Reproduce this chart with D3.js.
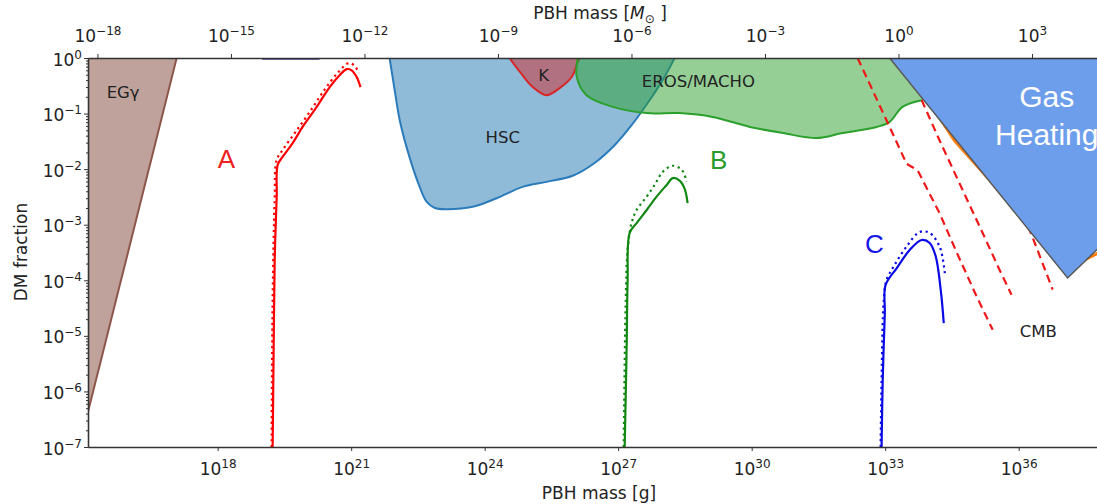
<!DOCTYPE html>
<html>
<head>
<meta charset="utf-8">
<script src="https://cdn.jsdelivr.net/npm/d3@7"></script>
<style>
body { margin: 0; background: #fff; }
text { font-family: "DejaVu Sans", sans-serif; fill: #222; }
</style>
</head>
<body>
<svg id="chart" width="1097" height="504"></svg>
<script>
// constraint regions, [PBH mass in g, DM fraction]
const egammaEdge = [[1.0e15, 2.26e-7], [1.2e17, 1]];
const hscEdge = [[7.3e21, 1], [9.5e21, 0.265], [1.23e22, 0.0767], [2.04e22, 0.0166], [3.47e22, 4.78e-3], [5.0e22, 2.57e-3],
  [7.6e22, 2.0e-3], [1.41e23, 1.9e-3], [5.4e23, 2.1e-3], [1.86e24, 3.0e-3], [7.1e24, 4.8e-3], [2.45e25, 5.9e-3],
  [9.5e25, 7.6e-3], [2.95e26, 0.0129], [8.3e26, 0.0269], [2.0e27, 0.0617], [4.6e27, 0.155], [1.0e28, 0.40], [1.86e28, 1]];
const kEdge = [[3.6e24, 1], [6.2e24, 0.56], [1.2e25, 0.30], [2.45e25, 0.214], [4.9e25, 0.29], [9.1e25, 0.46], [1.23e26, 0.85], [1.35e26, 1]];
const erosEdge = [[1.23e26, 1], [1.17e26, 0.46], [1.95e26, 0.214], [7.6e26, 0.132], [4.4e27, 0.102], [2.4e28, 0.102],
  [1.32e29, 0.087], [9.1e29, 0.0575], [5.0e30, 0.0447], [2.9e31, 0.0363], [1.1e32, 0.0447], [6.5e32, 0.0575],
  [1.26e33, 0.0708], [2.45e33, 0.132], [6.6e33, 0.174], [5e34, 0.174], [5e34, 1]];
const gasHeating = [[1.26e33, 1], [1.26e37, 1.1e-4], [1.6e42, 1]];
const orangeEdge = [[1.36e34, 0.107], [3.63e34, 0.0324], [2.24e35, 6.3e-3], [2.95e36, 5.2e-4], [1.82e37, 1.9e-4], [4.6e37, 2.75e-4], [1.86e38, 5.2e-4]];
const topEdge = [[1.0e19, 0.97], [1.95e20, 0.97]];

// CMB dashed limits
const cmb1 = [[2.4e32, 1], [1.07e33, 0.0759], [3.04e33, 0.0124], [4.37e33, 0.0105], [5.6e33, 8.9e-3], [1.66e34, 1.62e-3],
  [4.1e34, 3.1e-4], [1.15e35, 5.0e-5], [2.6e35, 1.29e-5]];
const cmb2 = [[6.6e33, 0.175], [1.66e34, 0.0331], [5.5e34, 4.2e-3], [1.55e35, 7.1e-4], [3.7e35, 1.55e-4], [6.9e35, 5.5e-5]];
const cmb3 = [[3.7e35, 0.033], [7.4e35, 4.2e-3], [2.04e36, 6.0e-4], [5.8e36, 6.8e-5]];

// extended mass functions A, B, C (solid and dotted)
const curveA = [[1.72e19, 1e-7], [1.81e19, 5.6e-6], [1.91e19, 2.3e-4], [2.12e19, 3.2e-3], [2.23e19, 0.0119], [2.88e19, 0.0166],
  [4.84e19, 0.0295], [8.1e19, 0.0575], [1.68e20, 0.132], [3.29e20, 0.30], [5.5e20, 0.49], [7.9e20, 0.63],
  [1.02e21, 0.60], [1.32e21, 0.46], [1.62e21, 0.30]];
const curveAdot = [[1.63e19, 1e-7], [1.72e19, 4.5e-5], [1.91e19, 2.8e-3], [2.12e19, 0.0146], [2.88e19, 0.0221], [5.4e19, 0.0447],
  [1.17e20, 0.107], [2.5e20, 0.266], [4.98e20, 0.54], [8.8e20, 0.81], [1.2e21, 0.72], [1.48e21, 0.54]];
const curveB = [[1.4e27, 1e-7], [1.55e27, 6.3e-6], [1.63e27, 1e-4], [1.81e27, 7.1e-4], [2.6e27, 1.07e-3], [4.37e27, 1.84e-3],
  [7.3e27, 3.2e-3], [1.23e28, 5.2e-3], [1.68e28, 6.9e-3], [2.4e28, 6.2e-3], [3.12e28, 4.4e-3], [3.63e28, 2.45e-3]];
const curveBdot = [[1.33e27, 1e-7], [1.48e27, 4.4e-5], [1.63e27, 3.5e-4], [2.0e27, 1.07e-3], [2.6e27, 1.84e-3], [4.37e27, 3.2e-3],
  [6.6e27, 5.2e-3], [1.0e28, 8.9e-3], [1.68e28, 0.0115], [2.7e28, 9.7e-3], [3.47e28, 5.9e-3]];
const curveC = [[8.3e32, 1e-7], [8.8e32, 1.62e-6], [9.8e32, 2.57e-5], [1.02e33, 8.2e-5], [1.82e33, 1.66e-4], [3.55e33, 3.5e-4],
  [6.6e33, 5.3e-4], [1.0e34, 4.7e-4], [1.36e34, 2.73e-4], [1.77e34, 6.7e-5], [2.07e34, 1.7e-5]];
const curveCdot = [[7.9e32, 1e-7], [8.3e32, 1.62e-6], [9.3e32, 4.4e-5], [1.07e33, 1e-4], [1.62e33, 1.88e-4], [3.0e33, 4.0e-4],
  [5.96e33, 7.4e-4], [1.0e34, 7.1e-4], [1.68e34, 4.0e-4], [2.19e34, 1.35e-4]];

// ticks
const gramTicks = [1e18, 1e21, 1e24, 1e27, 1e30, 1e33, 1e36];
const solarTicks = [1e-18, 1e-15, 1e-12, 1e-9, 1e-6, 1e-3, 1, 1e3];
const fracTicks = [1e-7, 1e-6, 1e-5, 1e-4, 1e-3, 1e-2, 1e-1, 1];
const MSUN = 1.989e33;

const svg = d3.select("#chart");
svg.append("rect").attr("width", 1097).attr("height", 504).attr("fill", "#fff");

const x = d3.scaleLog().domain([1.22e15, 1e38]).range([88, 1107.7]);
const xs = d3.scaleLog().domain([1.22e15 / MSUN, 1e38 / MSUN]).range([88, 1107.7]);
const y = d3.scaleLog().domain([1e-7, 1]).range([447, 58]);

svg.append("clipPath").attr("id", "plot")
  .append("rect").attr("x", 88).attr("y", 58).attr("width", 1100).attr("height", 389);

const plot = svg.append("g").attr("clip-path", "url(#plot)");

const lin = d3.line().x(d => x(d[0])).y(d => y(d[1]));
const smooth = d3.line().x(d => x(d[0])).y(d => y(d[1])).curve(d3.curveCatmullRom.alpha(0.5));

function region(edge, closing, fill, opacity, stroke, line) {
  plot.append("path").attr("d", line(edge.concat(closing)) + "Z")
    .attr("fill", fill).attr("fill-opacity", opacity).attr("stroke", "none");
  plot.append("path").attr("d", line(edge))
    .attr("fill", "none").attr("stroke", stroke).attr("stroke-width", 2);
}

region(egammaEdge, [[1.0e15, 1]], "#8c564b", 0.55, "#8c564b", lin);
region(hscEdge, [], "#1f77b4", 0.5, "#2b7bba", smooth);
region(kEdge, [], "#d62728", 0.5, "#d62728", smooth);
plot.append("path").attr("d", smooth(erosEdge) + "Z")
  .attr("fill", "#2ca02c").attr("fill-opacity", 0.5);
plot.append("path").attr("d", smooth(erosEdge.slice(0, 15)))
  .attr("fill", "none").attr("stroke", "#2ca02c").attr("stroke-width", 2);

plot.append("path").attr("d", lin(topEdge))
  .attr("fill", "none").attr("stroke", "#4a3a8a").attr("stroke-width", 2);

plot.append("path").attr("d", lin(orangeEdge))
  .attr("fill", "none").attr("stroke", "#ff7f0e").attr("stroke-width", 3);

[cmb1, cmb2, cmb3].forEach(c => {
  plot.append("path").attr("d", lin(c))
    .attr("fill", "none").attr("stroke", "#f01818").attr("stroke-width", 2.2)
    .attr("stroke-dasharray", "8,5");
});

plot.append("path").attr("d", lin(gasHeating) + "Z")
  .attr("fill", "#6d9eeb").attr("stroke", "#595959").attr("stroke-width", 1.5);

function pair(solid, dotted, color) {
  plot.append("path").attr("d", smooth(dotted))
    .attr("fill", "none").attr("stroke", color).attr("stroke-width", 2.2)
    .attr("stroke-dasharray", "2.2,3.6");
  plot.append("path").attr("d", smooth(solid))
    .attr("fill", "none").attr("stroke", color).attr("stroke-width", 2.2);
}
pair(curveA, curveAdot, "#ff0000");
pair(curveB, curveBdot, "#118811");
pair(curveC, curveCdot, "#0a0ae6");

// in-plot labels
const labels = [
  {t: "EGγ", m: 3.2e15, f: 0.19},
  {t: "HSC", m: 1.05e24, f: 0.0295},
  {t: "K", m: 1.6e25, f: 0.385},
  {t: "EROS/MACHO", m: 3.4e27, f: 0.30},
  {t: "CMB", m: 1.05e36, f: 9.5e-6}
];
labels.forEach(l => {
  svg.append("text").attr("x", x(l.m)).attr("y", y(l.f))
    .attr("font-size", 16.5).style("fill", "#222").text(l.t);
});

const bigLabels = [
  {t: "A", m: 1.0e18, f: 0.0105, color: "#ee2222"},
  {t: "B", m: 1.15e29, f: 0.01, color: "#2a9a2a"},
  {t: "C", m: 3.5e32, f: 3.1e-4, color: "#1515e6"}
];
bigLabels.forEach(l => {
  svg.append("text").attr("x", x(l.m)).attr("y", y(l.f))
    .attr("font-size", 26).style("font-family", "'Liberation Sans', Arial, sans-serif")
    .style("fill", l.color).text(l.t);
});

const gas = svg.append("text").attr("text-anchor", "middle")
  .style("font-family", "'Liberation Sans', Arial, sans-serif")
  .attr("font-size", 30).style("fill", "#fff");
gas.append("tspan").attr("x", x(4.27e36)).attr("y", y(0.132)).text("Gas");
gas.append("tspan").attr("x", x(4.27e36)).attr("y", y(0.0272)).text("Heating");

// axes
function sup(sel, base, exp) {
  sel.text(null);
  sel.append("tspan").text(base);
  sel.append("tspan").attr("dy", -7).attr("font-size", 12).text(exp);
}
function expOf(v) {
  const e = Math.round(Math.log10(v));
  return (e < 0 ? "−" + (-e) : "" + e);
}

const axisColor = "#333";

const gx = svg.append("g").attr("transform", "translate(0,447)")
  .call(d3.axisBottom(x).tickValues(gramTicks).tickSize(4).tickSizeOuter(0).tickFormat(""));
gx.selectAll(".tick").append("text").attr("y", 28).attr("text-anchor", "middle")
  .attr("font-size", 17).each(function(d) { sup(d3.select(this), "10", expOf(d)); });

const gt = svg.append("g").attr("transform", "translate(0,58)")
  .call(d3.axisTop(xs).tickValues(solarTicks).tickSize(4).tickSizeOuter(0).tickFormat(""));
gt.selectAll(".tick").append("text").attr("y", -16).attr("text-anchor", "middle")
  .attr("font-size", 17).each(function(d) { sup(d3.select(this), "10", expOf(d)); });

const minor = [];
for (let e = -7; e < 0; e++) for (let k = 2; k < 10; k++) minor.push(k * Math.pow(10, e));
svg.append("g").attr("transform", "translate(88,0)")
  .call(d3.axisLeft(y).tickValues(minor).tickSize(2).tickSizeOuter(0).tickFormat(""));

const gy = svg.append("g").attr("transform", "translate(88,0)")
  .call(d3.axisLeft(y).tickValues(fracTicks).tickSize(4).tickSizeOuter(0).tickFormat(""));
gy.selectAll(".tick").append("text").attr("x", -6).attr("y", 7).attr("text-anchor", "end")
  .attr("font-size", 17).each(function(d) { sup(d3.select(this), "10", expOf(d)); });

svg.selectAll(".domain").attr("stroke", axisColor).attr("stroke-width", 1.3);
svg.selectAll(".tick line").attr("stroke", axisColor).attr("stroke-width", 1);
svg.selectAll(".tick text").style("fill", "#222");

svg.append("text").attr("x", 599).attr("y", 499).attr("text-anchor", "middle")
  .attr("font-size", 17).text("PBH mass [g]");

const tt = svg.append("text").attr("x", 600).attr("y", 19).attr("text-anchor", "middle").attr("font-size", 17);
tt.append("tspan").text("PBH mass [");
tt.append("tspan").attr("font-style", "italic").text("M");
tt.append("tspan").attr("font-size", 12).attr("dy", 4).text("⊙");
tt.append("tspan").attr("dy", -4).text(" ]");

svg.append("text").attr("transform", "translate(27,252) rotate(-90)")
  .attr("text-anchor", "middle").attr("font-size", 17).text("DM fraction");
</script>
</body>
</html>
